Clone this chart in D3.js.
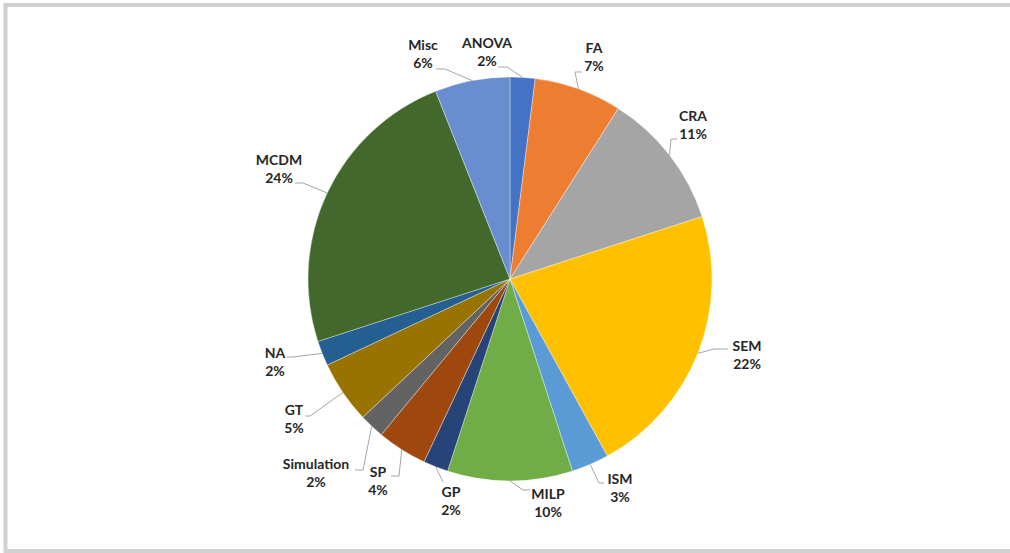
<!DOCTYPE html>
<html>
<head>
<meta charset="utf-8">
<script src="https://cdn.jsdelivr.net/npm/d3@7/dist/d3.min.js"></script>
<style>
  html, body { margin: 0; padding: 0; background: #fff; }
  svg { display: block; }
  text { font-family: Lato, "Open Sans", sans-serif; font-weight: 700; }
</style>
</head>
<body>
<svg id="chart" width="1010" height="553"></svg>
<script>
// Share of studies by method (percent)
const categories = ["ANOVA", "FA", "CRA", "SEM", "ISM", "MILP", "GP", "SP", "Simulation", "GT", "NA", "MCDM", "Misc"];
const shares     = [2, 7, 11, 22, 3, 10, 2, 4, 2, 5, 2, 24, 6];
const colors     = ["#4472C4", "#ED7D31", "#A5A5A5", "#FFC000", "#5B9BD5", "#70AD47",
                    "#264478", "#9E480E", "#636363", "#997300", "#255E91", "#43682B", "#698ED0"];

// Label anchors (centre of the two-line label) and leader-line elbows
const labelLayout = {
  "ANOVA":      { x: 487, y: 52, elbow: [[507, 67], [498, 67]] },
  "FA":         { x: 594, y: 57, elbow: [[575, 72], [582, 72]] },
  "CRA":        { x: 693, y: 125, elbow: [[671, 139], [677, 139]] },
  "SEM":        { x: 747, y: 355, elbow: [[714, 349], [728, 349]] },
  "ISM":        { x: 620, y: 488, elbow: [[599, 483], [604, 483]] },
  "MILP":       { x: 548, y: 503, elbow: [[523, 490], [530, 490]] },
  "GP":         { x: 451, y: 501, elbow: [[443, 482], [443, 482]] },
  "SP":         { x: 378, y: 481, elbow: [[399, 476], [391, 476]] },
  "Simulation": { x: 316, y: 473, elbow: [[363, 470], [355, 470]] },
  "GT":         { x: 294, y: 419, elbow: [[310, 416], [305, 416]] },
  "NA":         { x: 275, y: 362, elbow: [[293, 357], [287, 357]] },
  "MCDM":       { x: 279, y: 169, elbow: [[303, 183], [295, 183]] },
  "Misc":       { x: 423, y: 54, elbow: [[445, 69], [436, 69]] }
};

const svg = d3.select("#chart");
const W = 1010, H = 553;

// Chart frame
svg.append("rect")
  .attr("x", 5.5).attr("y", 5)
  .attr("width", W + 10).attr("height", 546)
  .attr("fill", "#fff")
  .attr("stroke", "#D0D0D0")
  .attr("stroke-width", 4);

const cx = 510, cy = 279, r = 202;

const data = categories.map((c, i) => ({ name: c, value: shares[i], color: colors[i] }));

const pie = d3.pie().value(d => d.value).sort(null);
const arcs = pie(data);
const arc = d3.arc().innerRadius(0).outerRadius(r);

const g = svg.append("g").attr("transform", `translate(${cx},${cy})`);

g.selectAll("path.slice")
  .data(arcs)
  .enter().append("path")
  .attr("class", "slice")
  .attr("d", arc)
  .attr("fill", d => d.data.color)
  .attr("stroke", "rgba(255,255,255,0.45)")
  .attr("stroke-width", 0.8);

// Leader lines: from the slice's outer edge at its mid-angle to the label
const edgeArc = d3.arc().innerRadius(r).outerRadius(r);
arcs.forEach(a => {
  const lay = labelLayout[a.data.name];
  const mid = (a.startAngle + a.endAngle) / 2;
  const p0 = [cx + r * Math.sin(mid), cy - r * Math.cos(mid)];
  const pts = [p0].concat(lay.elbow);
  svg.append("path")
    .attr("d", d3.line()(pts))
    .attr("fill", "none")
    .attr("stroke", "#A6A6A6")
    .attr("stroke-width", 1);
});

// Data labels: category name above percentage
const labels = svg.append("g").attr("fill", "#262626").attr("font-size", 14).attr("text-anchor", "middle");
arcs.forEach(a => {
  const lay = labelLayout[a.data.name];
  labels.append("text").attr("x", lay.x).attr("y", lay.y - 4).text(a.data.name);
  labels.append("text").attr("x", lay.x).attr("y", lay.y + 14).text(a.data.value + "%");
});
</script>
</body>
</html>
